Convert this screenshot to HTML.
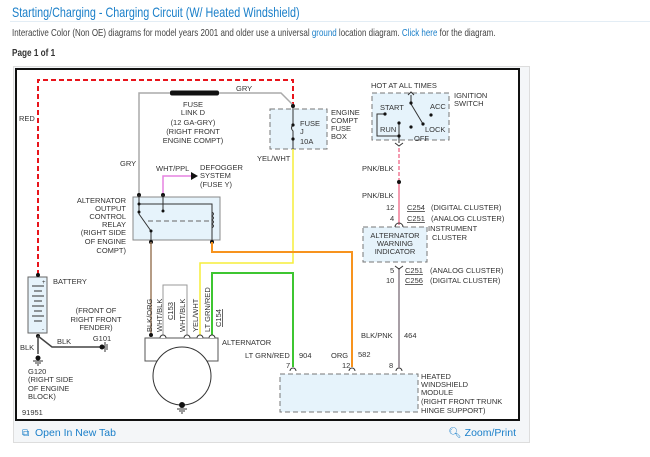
<!DOCTYPE html>
<html><head><meta charset="utf-8"><style>
body{margin:0;width:650px;height:457px;background:#fff;font-family:"Liberation Sans",sans-serif;overflow:hidden;position:relative}
.t{position:absolute;left:12px;top:4px;font-size:14px;color:#1a7fc9;white-space:nowrap;transform:scaleX(0.77);transform-origin:0 0}
.hl{position:absolute;left:10px;top:21px;width:640px;height:1px;background:#e3edf5}
.s{position:absolute;left:12px;top:27px;font-size:10.5px;color:#444;white-space:nowrap;transform:scaleX(0.76);transform-origin:0 0}
.s a{color:#1a7fc9}
.p{position:absolute;left:12px;top:47px;font-size:10.5px;font-weight:bold;color:#333;white-space:nowrap;transform:scaleX(0.78);transform-origin:0 0}
</style></head><body>
<div class="t">Starting/Charging - Charging Circuit (W/ Heated Windshield)</div>
<div class="hl"></div>
<div class="s">Interactive Color (Non OE) diagrams for model years 2001 and older use a universal <a>ground</a> location diagram. <a>Click here</a> for the diagram.</div>
<div class="p">Page 1 of 1</div>
<svg width="650" height="457" style="position:absolute;left:0;top:0" font-family="Liberation Sans, sans-serif" font-size="7.5" fill="#333">
<rect x="13.5" y="66.5" width="516" height="376" fill="#f4f6f8" stroke="#ddd"/>
<rect x="16" y="69" width="503" height="351" fill="#fff" stroke="#111" stroke-width="2"/>
<!-- footer -->
<text x="22" y="436" font-size="10" fill="#1a7fc9">⧉</text>
<text x="35" y="436" font-size="10.5" fill="#1a7fc9">Open In New Tab</text>
<text x="516" y="436" font-size="10.5" fill="#1a7fc9" text-anchor="end">🔍︎ Zoom/Print</text>
<!-- red dashed -->
<path d="M38 275 V80 H293 V106" fill="none" stroke="#e8141b" stroke-width="2" stroke-dasharray="5,3"/>
<text x="19" y="121">RED</text>
<!-- gray wire -->
<path d="M139 195 V93 H281 L293 105" fill="none" stroke="#aaa" stroke-width="1.5"/>
<rect x="170" y="90.5" width="49" height="5" rx="2" fill="#111"/>
<text x="236" y="91">GRY</text>
<g text-anchor="middle"><text x="193" y="107">FUSE</text><text x="193" y="115">LINK D</text><text x="193" y="125">(12 GA-GRY)</text><text x="193" y="134">(RIGHT FRONT</text><text x="193" y="143">ENGINE COMPT)</text></g>
<text x="120" y="166">GRY</text>
<!-- fuse box -->
<rect x="270" y="109" width="57" height="40" fill="#e6f3fb" stroke="#777" stroke-dasharray="5,3"/>
<path d="M293 106 V125 q-3 3 0 6 V149" fill="none" stroke="#333"/>
<circle cx="293" cy="106" r="2" fill="#111"/><circle cx="293" cy="125" r="1.6" fill="#111"/><circle cx="293" cy="139" r="1.6" fill="#111"/>
<text x="300" y="126">FUSE</text><text x="300" y="134">J</text><text x="300" y="144">10A</text>
<text x="331" y="115">ENGINE</text><text x="331" y="123">COMPT</text><text x="331" y="131">FUSE</text><text x="331" y="139">BOX</text>
<text x="257" y="161">YEL/WHT</text>
<path d="M293 149 V263 H200 V336" fill="none" stroke="#f5ee3a" stroke-width="1.5"/>
<!-- pink defogger -->
<path d="M163 197 V176 H191" fill="none" stroke="#e682e0" stroke-width="1.5"/>
<path d="M191 172 L198 176 L191 180Z" fill="#111"/>
<text x="156" y="171">WHT/PPL</text>
<text x="200" y="170">DEFOGGER</text><text x="200" y="178">SYSTEM</text><text x="200" y="187">(FUSE Y)</text>
<!-- relay -->
<rect x="133" y="197" width="87" height="43" fill="#e6f3fb" stroke="#888"/>
<circle cx="139" cy="195" r="2" fill="#111"/><circle cx="163" cy="195" r="2" fill="#111"/>
<path d="M139 195 V214 L151 231 V242 M139 204 H212 V242 M163 195 V211" fill="none" stroke="#333"/>
<circle cx="139" cy="204" r="1.5" fill="#111"/><circle cx="139" cy="212" r="1.5" fill="#111"/><circle cx="151" cy="231" r="1.5" fill="#111"/><circle cx="163" cy="211" r="1.5" fill="#111"/>
<path d="M148 221 H212" stroke="#666" stroke-dasharray="5,3"/>
<path d="M212 212 q3 2 0 4 q3 2 0 4 q3 2 0 4 q3 2 0 4" fill="none" stroke="#333"/>
<circle cx="151" cy="242" r="2" fill="#111"/><circle cx="212" cy="242" r="2" fill="#111"/>
<g text-anchor="end"><text x="126" y="203">ALTERNATOR</text><text x="126" y="211">OUTPUT</text><text x="126" y="219">CONTROL</text><text x="126" y="227">RELAY</text><text x="126" y="235">(RIGHT SIDE</text><text x="126" y="244">OF ENGINE</text><text x="126" y="253">COMPT)</text></g>
<!-- orange -->
<path d="M212 242 V252 H352 V367" fill="none" stroke="#f7931e" stroke-width="2"/>
<path d="M151 242 V334" stroke="#9c7b5c" stroke-width="1.5"/>
<!-- green -->
<path d="M212 336 V273 H293 V367" fill="none" stroke="#3ec631" stroke-width="2"/>
<!-- alternator -->
<path d="M163 336 V285 H187 V336" fill="none" stroke="#999"/>
<rect x="145" y="338" width="73" height="23" fill="#fff" stroke="#555"/>
<circle cx="182" cy="376" r="29" fill="#fff" stroke="#333"/>
<circle cx="151" cy="335" r="2" fill="#111"/>
<g fill="#fff" stroke="#333"><path d="M160 338 a3 3 0 0 1 6 0"/><path d="M184 338 a3 3 0 0 1 6 0"/><path d="M197 338 a3 3 0 0 1 6 0"/><path d="M209 338 a3 3 0 0 1 6 0"/></g>
<circle cx="182" cy="405" r="3" fill="#111"/>
<path d="M177 409 H187 M179 411 H185 M181 413 H183" stroke="#333"/>
<g font-size="7.5"><text transform="translate(152,332) rotate(-90)">BLK/ORG</text><text transform="translate(162,332) rotate(-90)">WHT/BLK</text><text transform="translate(173,320) rotate(-90)" text-decoration="underline">C153</text><text transform="translate(185,332) rotate(-90)">WHT/BLK</text><text transform="translate(198,332) rotate(-90)">YEL/WHT</text><text transform="translate(210,332) rotate(-90)">LT GRN/RED</text><text transform="translate(221,327) rotate(-90)" text-decoration="underline">C154</text></g>
<text x="222" y="345">ALTERNATOR</text>
<!-- battery -->
<rect x="28" y="277" width="19" height="56" fill="#e6f3fb" stroke="#666"/>
<circle cx="38" cy="275" r="2" fill="#111"/>
<path d="M32 286 H44 M34 291 H42 M32 296 H44 M34 301 H42 M32 306 H44 M34 311 H42 M32 316 H44 M34 321 H42" stroke="#333"/>
<text x="42" y="284" font-size="6">+</text><text x="42" y="331" font-size="6">-</text>
<text x="53" y="284">BATTERY</text>
<circle cx="38" cy="336" r="2" fill="#111"/>
<path d="M38 336 V354 M38 336 L52 347 H100" fill="none" stroke="#444" stroke-width="1.5"/>
<circle cx="38" cy="358" r="2.5" fill="#111"/><path d="M33 361 H43 M35 363 H41 M37 365 H39" stroke="#333"/>
<circle cx="102" cy="347" r="2.5" fill="#111"/><path d="M105 342 V352 M107 344 V350" stroke="#333"/>
<text x="20" y="350">BLK</text><text x="57" y="344">BLK</text>
<g text-anchor="middle"><text x="96" y="313">(FRONT OF</text><text x="96" y="322">RIGHT FRONT</text><text x="96" y="330">FENDER)</text><text x="102" y="341">G101</text></g>
<text x="28" y="374">G120</text><text x="28" y="382">(RIGHT SIDE</text><text x="28" y="391">OF ENGINE</text><text x="28" y="399">BLOCK)</text>
<text x="22" y="415">91951</text>
<!-- heated module -->
<rect x="280" y="374" width="138" height="38" fill="#e6f3fb" stroke="#777" stroke-dasharray="5,3"/>
<g fill="none" stroke="#333"><path d="M290 371 a3 3 0 0 1 6 0"/><path d="M349 371 a3 3 0 0 1 6 0"/><path d="M396 371 a3 3 0 0 1 6 0"/></g>
<text x="421" y="379">HEATED</text><text x="421" y="387">WINDSHIELD</text><text x="421" y="395">MODULE</text><text x="421" y="404">(RIGHT FRONT TRUNK</text><text x="421" y="413">HINGE SUPPORT)</text>
<text x="245" y="358">LT GRN/RED</text><text x="299" y="358">904</text><text x="286" y="368">7</text>
<text x="331" y="358">ORG</text><text x="358" y="357">582</text><text x="342" y="368">12</text><text x="389" y="368">8</text>
<text x="361" y="338">BLK/PNK</text><text x="404" y="338">464</text>
<path d="M399 268 V368" stroke="#8a7f88" stroke-width="1.5"/>
<path d="M395 266 L399 269 L403 266" fill="none" stroke="#333"/>
<text x="390" y="273">5</text><text x="405" y="273" text-decoration="underline">C251</text><text x="430" y="273">(ANALOG CLUSTER)</text>
<text x="386" y="283">10</text><text x="405" y="283" text-decoration="underline">C256</text><text x="430" y="283">(DIGITAL CLUSTER)</text>
<!-- warning indicator -->
<rect x="363" y="227" width="64" height="35" fill="#e6f3fb" stroke="#777" stroke-dasharray="5,3"/>
<g text-anchor="middle"><text x="395" y="238">ALTERNATOR</text><text x="395" y="246">WARNING</text><text x="395" y="254">INDICATOR</text></g>
<text x="428" y="231">INSTRUMENT</text><text x="432" y="240">CLUSTER</text>
<!-- pink -->
<path d="M399 148 V182" stroke="#f07a96" stroke-width="1.5" stroke-dasharray="4,2"/>
<path d="M399 182 V225" stroke="#f07a96" stroke-width="1.5"/>
<circle cx="399" cy="182" r="2" fill="#111"/>
<path d="M395 227 a4 4 0 0 1 8 0" fill="none" stroke="#333"/>
<text x="362" y="171">PNK/BLK</text><text x="362" y="198">PNK/BLK</text>
<text x="386" y="210">12</text><text x="407" y="210" text-decoration="underline">C254</text><text x="431" y="210">(DIGITAL CLUSTER)</text>
<text x="390" y="221">4</text><text x="407" y="221" text-decoration="underline">C251</text><text x="431" y="221">(ANALOG CLUSTER)</text>
<!-- ignition -->
<rect x="372" y="93" width="77" height="47" fill="#e6f3fb" stroke="#777" stroke-dasharray="5,3"/>
<text x="371" y="88">HOT AT ALL TIMES</text>
<text x="454" y="98">IGNITION</text><text x="454" y="106">SWITCH</text>
<path d="M411 95 V104 L423 124 M385 114 H377 V136 H399 V123 M399 136 V143 M408 95 l3 -3 l3 3 M395 143 l4 3 l4 -3" fill="none" stroke="#333"/>
<circle cx="411" cy="103" r="1.6" fill="#111"/><circle cx="385" cy="114" r="1.6" fill="#111"/><circle cx="399" cy="123" r="1.6" fill="#111"/><circle cx="399" cy="136" r="1.6" fill="#111"/><circle cx="411" cy="127" r="1.6" fill="#111"/><circle cx="423" cy="124" r="1.6" fill="#111"/><circle cx="431" cy="115" r="1.6" fill="#111"/>
<text x="380" y="110">START</text><text x="430" y="109">ACC</text><text x="380" y="132">RUN</text><text x="425" y="132">LOCK</text><text x="414" y="141">OFF</text>
</svg>
</body></html>
